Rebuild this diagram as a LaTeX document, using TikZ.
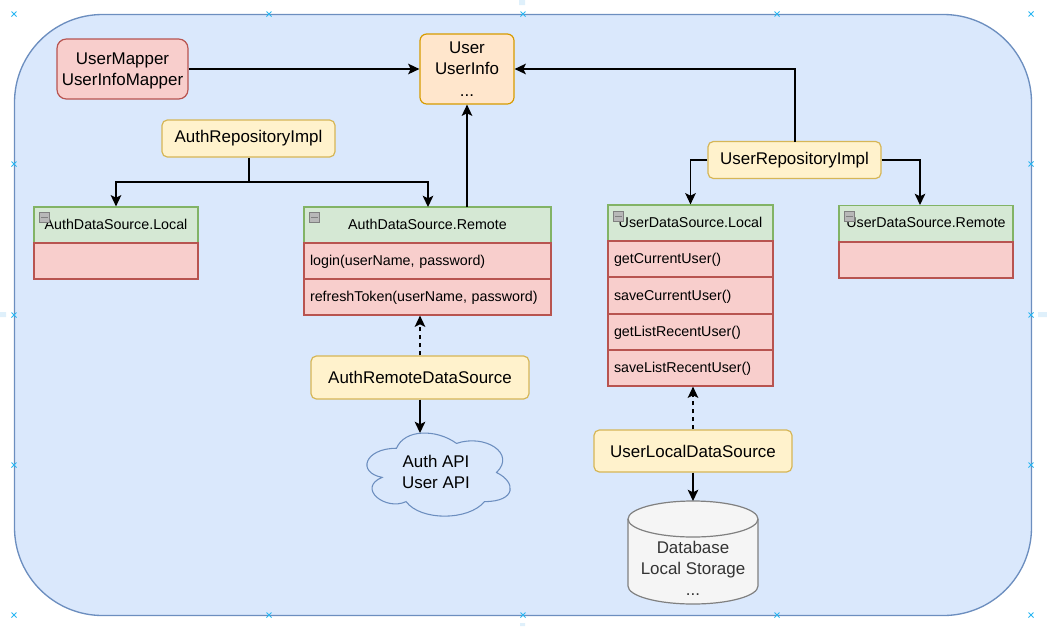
\documentclass[tikz,border=0pt]{standalone}
\usepackage{fontspec}
\setmainfont{Liberation Sans}
\usetikzlibrary{arrows.meta}
\def\pxu{0.75pt}

\tikzset{
  panel/.style={draw=panelline,fill=panelfill,line width=1pt,rounded corners=66pt,minimum width=1017*\pxu,minimum height=601*\pxu},
  bigtext/.style={align=center,font=\fontsize{12.7}{16}\selectfont},
  redbox/.style={bigtext,draw=redline,fill=redfill,line width=0.9pt,rounded corners=7pt,inner sep=0pt},
  orangebox/.style={redbox,draw=orangeline,fill=orangefill,rounded corners=5pt},
  implbox/.style={redbox,draw=yellowline,fill=yellowfill,rounded corners=4pt,minimum height=#1*\pxu},
  implbox/.default=37,
  headbox/.style={draw=greenline,fill=greenfill,line width=0.9pt,minimum height=36*\pxu,inner sep=0pt,text depth=1.5pt,font=\fontsize{10.7}{12}\selectfont},
  itembox/.style={draw=redline,fill=redfill,line width=0.9pt,minimum height=36*\pxu,inner sep=0pt,text height=8.5pt,text depth=1.5pt,font=\fontsize{10.7}{12}\selectfont,align=left},
  icon/.style={draw=gray,fill=black!28,line width=0.6pt,minimum size=10.5*\pxu,inner sep=0pt,path picture={\draw[line width=0.7pt] (path picture bounding box.west) ++(1.3pt,0) -- ++(5.3pt,0);}},
  conn/.style={draw=black,line width=0.9pt,-{Stealth[length=8.5pt,width=8pt,inset=2pt]}},
  plain/.style={draw=black,line width=0.9pt},
  handle/.style={draw=handleblue,line width=0.6pt},
}
\definecolor{panelfill}{HTML}{DAE8FC}
\definecolor{panelline}{HTML}{6C8EBF}
\definecolor{redfill}{HTML}{F8CECC}
\definecolor{redline}{HTML}{B85450}
\definecolor{orangefill}{HTML}{FFE6CC}
\definecolor{orangeline}{HTML}{D79B00}
\definecolor{yellowfill}{HTML}{FFF2CC}
\definecolor{yellowline}{HTML}{D6B656}
\definecolor{greenfill}{HTML}{D5E8D4}
\definecolor{greenline}{HTML}{82B366}
\definecolor{handleblue}{HTML}{29B6F2}
\definecolor{handlepale}{HTML}{DFF0FB}

\begin{document}
\begin{tikzpicture}[x=0.75pt,y=-0.75pt]
  \useasboundingbox (0,0) rectangle (1047,626);

  % Background
  \node[panel] (panel) at (523,315) {};
  \foreach \hx/\hy in {14/14,269/14,523/14,777/14,1031/14,14/164,14/315,14/465,1031/164,1031/315,1031/465,14/615,269/615,523/615,777/615,1031/615}{
    \draw[handle] (\hx-2.5,\hy-2.5) -- (\hx+2.5,\hy+2.5) (\hx-2.5,\hy+2.5) -- (\hx+2.5,\hy-2.5);
  }
  \fill[handlepale] (0,312) rectangle (6,317) (1038,312) rectangle (1047,317) (519,0) rectangle (525,5) (520,623) rectangle (525,626);

  % Top row
  \node[redbox,minimum width=131*\pxu,minimum height=60*\pxu] (mapper) at (122.5,69) {\rule{0pt}{12pt}UserMapper\\UserInfoMapper};
  \node[orangebox,minimum width=94*\pxu,minimum height=70*\pxu] (model) at (467,69) {User\\UserInfo\\...};

  % Auth side
  \node[implbox,minimum width=173*\pxu] (authRepo) at (248.5,138.5) {AuthRepositoryImpl};

  \node[headbox,minimum width=164*\pxu] (authLocal) at (116,225) {AuthDataSource.Local};
  \node[itembox,minimum width=164*\pxu] (authLocalBody) at (116,261) {};
  \node[icon] (authLocalIcon) at (44.5,217.5) {};

  \node[headbox,minimum width=247*\pxu] (authRemote) at (427.5,225) {AuthDataSource.Remote};
  \node[itembox,text width=235*\pxu,inner xsep=6*\pxu] (authLogin) at (427.5,261) {login(userName, password)};
  \node[itembox,text width=235*\pxu,inner xsep=6*\pxu] (authRefresh) at (427.5,297) {refreshToken(userName, password)};
  \node[icon] (authRemoteIcon) at (314.5,217.5) {};

  \node[implbox=43,minimum width=218*\pxu] (authDs) at (420,377.5) {AuthRemoteDataSource};

  % Cloud
  \begin{scope}[shift={(356.5,424)},x=160*\pxu,y=-97*\pxu]
    \draw[draw=panelline,line width=0.8pt] (0.25,0.25)
      .. controls (0.05,0.25) and (0,0.5) .. (0.16,0.55)
      .. controls (0,0.66) and (0.18,0.9) .. (0.31,0.8)
      .. controls (0.4,1) and (0.7,1) .. (0.8,0.8)
      .. controls (1,0.8) and (1,0.6) .. (0.875,0.5)
      .. controls (1,0.3) and (0.8,0.1) .. (0.625,0.2)
      .. controls (0.5,0.05) and (0.3,0.05) .. (0.25,0.25) -- cycle;
  \end{scope}
  \node[bigtext] (api) at (436,472) {Auth API\\User API};

  % User side
  \node[implbox,minimum width=173*\pxu] (userRepo) at (794.5,160) {UserRepositoryImpl};

  \node[headbox,minimum width=165*\pxu] (userLocal) at (690.5,223) {UserDataSource.Local};
  \node[itembox,text width=153*\pxu,inner xsep=6*\pxu] (userGet) at (690.5,259) {getCurrentUser()};
  \node[itembox,text width=153*\pxu,inner xsep=6*\pxu] (userSave) at (690.5,295.5) {saveCurrentUser()};
  \node[itembox,text width=153*\pxu,inner xsep=6*\pxu] (userGetList) at (690.5,332) {getListRecentUser()};
  \node[itembox,text width=153*\pxu,inner xsep=6*\pxu] (userSaveList) at (690.5,368) {saveListRecentUser()};
  \node[icon] (userLocalIcon) at (618.5,216.5) {};

  \node[headbox,minimum width=174*\pxu] (userRemote) at (926,223.5) {UserDataSource.Remote};
  \node[itembox,minimum width=174*\pxu] (userRemoteBody) at (926,260) {};
  \node[icon] (userRemoteIcon) at (849.5,216.5) {};

  \node[implbox=42,minimum width=198*\pxu] (userDs) at (693,451) {UserLocalDataSource};

  % Database
  \draw[draw=gray,fill=black!4,line width=0.9pt] (628,519) -- (628,586)
    arc[start angle=180,end angle=360,x radius=65*\pxu,y radius=18*\pxu] -- (758,519)
    arc[start angle=0,end angle=180,x radius=65*\pxu,y radius=18*\pxu] -- cycle;
  \draw[draw=gray,line width=0.9pt] (628,519) arc[start angle=180,end angle=360,x radius=65*\pxu,y radius=18*\pxu];
  \node[bigtext,text=black!80] (dbLabel) at (693,568.5) {Database\\Local Storage\\...};

  % Connectors
  \coordinate (authFork) at (249,182);
  \coordinate (authRemoteIn) at (428,207);
  \coordinate (authRemoteOut) at (467,207);
  \coordinate (userRepoOut) at (795,142);
  \coordinate (apiTop) at (420,433);
  \coordinate (dbTop) at (693,501);
  \coordinate (userRemoteIn) at (920,205);

  \draw[conn] (mapper.east) -- (model.west);
  \draw[conn] (userRepoOut) |- (model.east);
  \draw[conn] (authRemoteOut) -- (authRemoteOut |- model.south);
  \draw[plain] (authFork |- authRepo.south) -- (authFork);
  \draw[conn] (authFork) -| (authLocal.north);
  \draw[conn] (authFork) -| (authRemoteIn);
  \draw[conn,dashed] (authDs.north) -- (authDs.north |- authRefresh.south);
  \draw[conn] (authDs.south) -- (apiTop);
  \draw[conn] (userRepo.west) -| (userLocal.north);
  \draw[conn] (userRepo.east) -| (userRemoteIn);
  \draw[conn,dashed] (userDs.north) -- (userDs.north |- userSaveList.south);
  \draw[conn] (userDs.south) -- (dbTop);
\end{tikzpicture}
\end{document}
